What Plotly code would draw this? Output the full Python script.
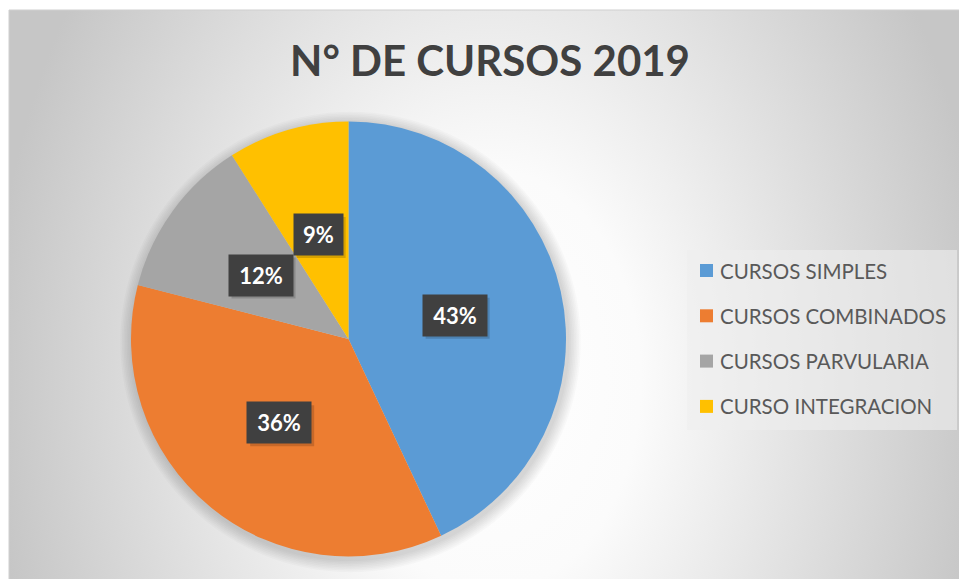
import base64
import math

import plotly.graph_objects as go

# data
categories = ["CURSOS SIMPLES", "CURSOS COMBINADOS", "CURSOS PARVULARIA", "CURSO INTEGRACION"]
shares = [43, 36, 12, 9]
colors = ["#5B9BD5", "#ED7D31", "#A5A5A5", "#FFC000"]
title_text = "N° DE CURSOS 2019"

W, H = 959, 579
FONT = "Lato"

# pie placement, page pixels
cx, cy, R = 348.5, 339, 217.5


def px_x(x):
    return x / W


def px_y(y):
    return 1 - y / H


# radial gradient background of the chart area
svg = """<svg xmlns='http://www.w3.org/2000/svg' width='950' height='569' viewBox='0 0 950 569'>
<defs><radialGradient id='g' gradientUnits='userSpaceOnUse' cx='0' cy='0' r='1'
 gradientTransform='translate(482 370) scale(500 700)'>
<stop offset='0' stop-color='#ffffff'/><stop offset='0.3' stop-color='#fbfbfb'/>
<stop offset='1' stop-color='#c6c6c6'/></radialGradient></defs>
<rect width='950' height='569' fill='url(#g)'/></svg>"""
bg_uri = "data:image/svg+xml;base64," + base64.b64encode(svg.encode()).decode()

fig = go.Figure()

fig.add_trace(go.Pie(
    labels=categories,
    values=shares,
    sort=False,
    direction="clockwise",
    rotation=0,
    marker=dict(colors=colors, line=dict(width=0)),
    textinfo="none",
    showlegend=False,
    domain=dict(x=[px_x(cx - R), px_x(cx + R)], y=[px_y(cy + R), px_y(cy - R)]),
))

fig.add_layout_image(dict(
    source=bg_uri, xref="paper", yref="paper",
    x=px_x(9), y=px_y(10), sizex=950 / W, sizey=569 / H,
    sizing="stretch", xanchor="left", yanchor="top", layer="below",
))

shapes = [dict(type="rect", xref="paper", yref="paper",
               x0=px_x(9), x1=px_x(959.5), y0=px_y(579.5), y1=px_y(10),
               line=dict(color="#cfcfcf", width=1), layer="below")]

# soft shadow around the pie
for k in range(1, 9):
    rr = R + 1.6 * k
    shapes.append(dict(type="circle", xref="paper", yref="paper",
                       x0=px_x(cx + 2 - rr), x1=px_x(cx + 2 + rr),
                       y0=px_y(cy + 3 + rr), y1=px_y(cy + 3 - rr),
                       fillcolor="rgba(0,0,0,0.018)", line=dict(width=0), layer="below"))

# data labels: dark boxes at half radius, in the middle of each slice
annotations = []
total = sum(shares)
acc = 0
for v in shares:
    mid = (acc + v / 2) / total * 2 * math.pi
    acc += v
    lx = cx + 0.5 * R * math.sin(mid)
    ly = cy - 0.5 * R * math.cos(mid)
    txt = f"{round(v / total * 100)}%"
    bw = 15 * len(txt) + 19
    # drop shadow of the label box
    shapes.append(dict(type="rect", xref="paper", yref="paper",
                       x0=px_x(lx - bw / 2 + 3), x1=px_x(lx + bw / 2 + 3),
                       y0=px_y(ly + 20.5 + 3), y1=px_y(ly - 20.5 + 3),
                       fillcolor="rgba(0,0,0,0.16)", line=dict(width=0), layer="above"))
    annotations.append(dict(
        x=px_x(lx), y=px_y(ly), xref="paper", yref="paper",
        xanchor="center", yanchor="middle",
        text=f"<b>{txt}</b>", showarrow=False,
        width=bw, height=41, borderpad=0, bgcolor="#404040",
        font=dict(family=FONT, size=22, color="white"),
    ))

# legend drawn by hand to keep the Excel spacing
shapes.append(dict(type="rect", xref="paper", yref="paper",
                   x0=px_x(687), x1=px_x(957), y0=px_y(430), y1=px_y(250),
                   fillcolor="rgba(238,238,238,0.6)", line=dict(width=0), layer="below"))
for i, (name, c) in enumerate(zip(categories, colors)):
    yc = 270.5 + i * 45.3
    shapes.append(dict(type="rect", xref="paper", yref="paper",
                       x0=px_x(700), x1=px_x(713), y0=px_y(yc + 6.5), y1=px_y(yc - 6.5),
                       fillcolor=c, line=dict(width=0)))
    annotations.append(dict(
        x=px_x(718), y=px_y(yc), xref="paper", yref="paper",
        xanchor="left", yanchor="middle", text=name, showarrow=False,
        font=dict(family=FONT, size=20.5, color="#595959"),
    ))

fig.update_layout(
    width=W, height=H,
    margin=dict(l=0, r=0, t=0, b=0),
    paper_bgcolor="white",
    plot_bgcolor="rgba(0,0,0,0)",
    title=dict(text=f"<b>{title_text}</b>", x=px_x(490), xanchor="center",
               y=px_y(61), yanchor="middle",
               font=dict(family=FONT, size=42, color="#404040")),
    shapes=shapes,
    annotations=annotations,
)

# the figure fills the whole window, without the default body margin
fig.write_html("out.html", config={"displayModeBar": False},
               post_script="document.body.style.margin='0';document.body.style.overflow='hidden';")
